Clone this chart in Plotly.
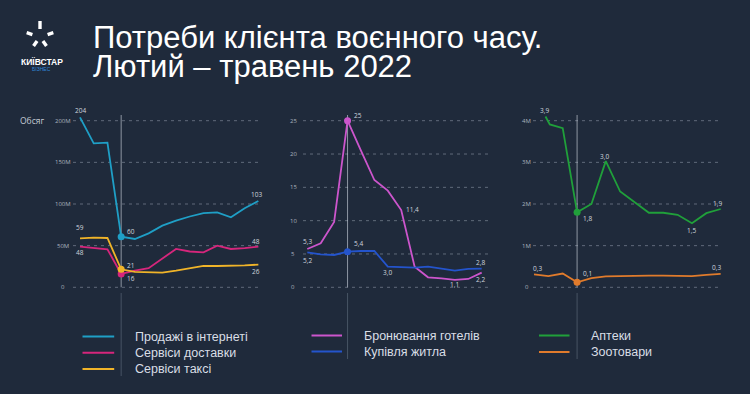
import math
import plotly.graph_objects as go

W, H = 750, 394

# ---------------- data ----------------
weeks = list(range(14))
online_sales = [204, 172.8, 173.6, 60.8, 58, 64.8, 74, 80, 85, 89, 90, 84, 95, 103.6]
delivery = [48.8, 47, 45.6, 16, 20, 23, 34, 46, 43, 42, 50, 46, 47, 48.8]
taxi = [58.8, 59.6, 59.2, 21.6, 18.4, 17.6, 17.6, 20, 22.8, 25.6, 25.6, 25.6, 26.4, 27.2]

hotels = [5.75, 6.6, 9.8, 25, 20.5, 16.1, 14.5, 11.6, 3.1, 1.5, 1.35, 1.1, 1.25, 2.2]
housing = [5.25, 4.95, 4.85, 5.35, 5.45, 5.45, 3.1, 3.0, 2.95, 3.1, 2.85, 2.5, 2.75, 2.8]

pharmacy_x = [0.8, 1.1, 2, 3, 4, 5, 6, 7, 8, 9, 10, 11, 12, 13]
pharmacy = [4.10, 3.91, 3.82, 1.80, 2.00, 3.03, 2.30, 2.04, 1.79, 1.79, 1.74, 1.54, 1.78, 1.88]
pets = [0.31, 0.27, 0.33, 0.12, 0.22, 0.26, 0.27, 0.28, 0.28, 0.28, 0.27, 0.27, 0.30, 0.32]

war_week = 3

left_ticks = [0, 50, 100, 150, 200]
left_ticktext = ["0", "50M", "100M", "150M", "200M"]
mid_ticks = [0, 5, 10, 15, 20, 25]
mid_ticktext = ["0", "5", "10", "15", "20", "25"]
right_ticks = [0, 1, 2, 3, 4]
right_ticktext = ["0", "1M", "2M", "3M", "4M"]

series_names = ["Продажі в інтернеті", "Сервіси доставки", "Сервіси таксі",
                "Бронювання готелів", "Купівля житла", "Аптеки", "Зоотовари"]

# point labels: (series key, index into series, text)
point_labels = [
    ("online", 0, "204"), ("taxi", 0, "59"), ("delivery", 0, "48"),
    ("online", 3, "60"), ("taxi", 3, "21"), ("delivery", 3, "16"),
    ("online", 13, "103"), ("delivery", 13, "48"), ("taxi", 13, "26"),
    ("hotels", 3, "25"), ("hotels", 0, "5,3"), ("housing", 0, "5,2"),
    ("housing", 3, "5,4"), ("hotels", 7, "11,4"), ("housing", 6, "3,0"),
    ("hotels", 11, "1,1"), ("housing", 13, "2,8"), ("hotels", 13, "2,2"),
    ("pharmacy", 0, "3,9"), ("pharmacy", 3, "1,8"), ("pharmacy", 5, "3,0"),
    ("pharmacy", 11, "1,5"), ("pharmacy", 13, "1,9"),
    ("pets", 0, "0,3"), ("pets", 3, "0,1"), ("pets", 13, "0,3"),
]

title_lines = ["Потреби клієнта воєнного часу.", "Лютий – травень 2022"]
y_title = "Обсяг"

# ---------------- styles ----------------
BG = "#1f2a3b"
C_ONLINE = "#1f9fc6"
C_DELIV = "#d6267c"
C_TAXI = "#f0b429"
C_HOTEL = "#cc55cc"
C_HOUSE = "#2454cc"
C_PHARM = "#20a03a"
C_PETS = "#e07b2c"
GRID = "rgba(175,185,200,0.45)"
TICKC = "#aab3bf"
LABC = "#cfd5de"

series = {
    "online": ("x", "y", weeks, online_sales, C_ONLINE),
    "delivery": ("x", "y", weeks, delivery, C_DELIV),
    "taxi": ("x", "y", weeks, taxi, C_TAXI),
    "hotels": ("x2", "y2", weeks, hotels, C_HOTEL),
    "housing": ("x2", "y2", weeks, housing, C_HOUSE),
    "pharmacy": ("x3", "y3", pharmacy_x, pharmacy, C_PHARM),
    "pets": ("x3", "y3", weeks, pets, C_PETS),
}

# label offsets (px): key -> (xshift, yshift, xanchor)
label_style = {
    ("online", 0): (0, 7, "center"), ("taxi", 0): (0, 11, "center"),
    ("delivery", 0): (0, -6, "center"),
    ("online", 3): (4, 5, "left"), ("taxi", 3): (4, 4, "left"),
    ("delivery", 3): (4, -5, "left"),
    ("online", 13): (-2, 6, "center"), ("delivery", 13): (-2, 5, "center"),
    ("taxi", 13): (-2, -7, "center"),
    ("hotels", 3): (4, 5, "left"), ("hotels", 0): (0, 7, "center"),
    ("housing", 0): (0, -8, "center"), ("housing", 3): (4, 8, "left"),
    ("hotels", 7): (3, 0, "left"), ("housing", 6): (0, -6, "center"),
    ("hotels", 11): (0, -5, "center"), ("housing", 13): (-1, 6, "center"),
    ("hotels", 13): (-1, -7, "center"),
    ("pharmacy", 0): (-1, 6, "center"), ("pharmacy", 3): (4, -6, "left"),
    ("pharmacy", 5): (-1, 5, "center"), ("pharmacy", 11): (0, -7, "center"),
    ("pharmacy", 13): (-3, 5, "center"),
    ("pets", 0): (3, 6, "center"), ("pets", 3): (4, 9, "left"),
    ("pets", 13): (-4, 6, "center"),
}


def X(px):
    return px / W


def Y(py):
    return 1 - py / H


ZERO_PX = 287.3
TOP_TICK_PX = 120.7
DOM_TOP, DOM_BOT = 108, 290


def yax(top_tick_val):
    s = (ZERO_PX - TOP_TICK_PX) / top_tick_val
    return dict(domain=[Y(DOM_BOT), Y(DOM_TOP)],
                range=[(ZERO_PX - DOM_BOT) / s, (ZERO_PX - DOM_TOP) / s],
                showgrid=False, zeroline=False, showticklabels=False,
                showline=False, ticks="", fixedrange=True)


def xax(idx0_px, sp, l, r):
    return dict(domain=[X(l), X(r)],
                range=[(l - idx0_px) / sp, (r - idx0_px) / sp],
                showgrid=False, zeroline=False, showticklabels=False,
                showline=False, ticks="", fixedrange=True)


fig = go.Figure()

names_by_key = dict(zip(["online", "delivery", "taxi", "hotels", "housing", "pharmacy", "pets"],
                        series_names))

for key, (xa, ya, xs, ys, col) in series.items():
    fig.add_trace(go.Scatter(x=xs, y=ys, xaxis=xa, yaxis=ya, mode="lines",
                             line=dict(color=col, width=1.8, shape="linear"),
                             name=names_by_key[key], showlegend=False,
                             cliponaxis=False, hoverinfo="skip"))
    wi = xs.index(war_week)
    fig.add_trace(go.Scatter(x=[xs[wi]], y=[ys[wi]], xaxis=xa, yaxis=ya,
                             mode="markers", marker=dict(color=col, size=7),
                             showlegend=False, cliponaxis=False, hoverinfo="skip"))

layout = dict(
    width=W, height=H, margin=dict(l=0, r=0, t=0, b=0),
    paper_bgcolor=BG, plot_bgcolor=BG, showlegend=False,
    xaxis=xax(80.0, 13.72, 73, 260),
    xaxis2=xax(307.3, 13.415, 303, 488.3),
    xaxis3=xax(534.0, 14.36, 533, 722),
    yaxis=yax(left_ticks[-1]),
    yaxis2=yax(mid_ticks[-1]),
    yaxis3=yax(right_ticks[-1]),
)
fig.update_layout(**layout)

shapes = []
annotations = []

# dashed grid lines at tick values
for xa, ya, ticks, (l, r) in [("x", "y", left_ticks, (73, 260)),
                              ("x2", "y2", mid_ticks, (303, 488.3)),
                              ("x3", "y3", right_ticks, (533, 722))]:
    for t in ticks:
        shapes.append(dict(type="line", xref="paper", yref=ya, x0=X(l), x1=X(r),
                           y0=t, y1=t, line=dict(color=GRID, width=1, dash="3px,4px"),
                           layer="below"))

# tick labels (centered like in the reference)
for ya, ticks, texts, cx in [("y", left_ticks, left_ticktext, 63.3),
                             ("y2", mid_ticks, mid_ticktext, 293.3),
                             ("y3", right_ticks, right_ticktext, 526.7)]:
    for t, tt in zip(ticks, texts):
        annotations.append(dict(xref="paper", yref=ya, x=X(cx), y=t, text=tt,
                                showarrow=False, xanchor="center", yanchor="middle",
                                font=dict(family="Open Sans", size=6, color=TICKC)))

# vertical war-start lines
for xa, low_end in [("x", 376), ("x2", 359), ("x3", 359)]:
    shapes.append(dict(type="line", xref=xa, yref="paper", x0=war_week, x1=war_week,
                       y0=Y(ZERO_PX), y1=Y(115),
                       line=dict(color="rgba(215,222,232,0.6)", width=1), layer="below"))
    shapes.append(dict(type="line", xref=xa, yref="paper", x0=war_week, x1=war_week,
                       y0=Y(low_end), y1=Y(293),
                       line=dict(color="rgba(120,132,150,0.45)", width=1), layer="below"))

# point labels
for key, i, txt in point_labels:
    xa, ya, xs, ys, col = series[key]
    dx, dy, anc = label_style[(key, i)]
    annotations.append(dict(xref=xa, yref=ya, x=xs[i], y=ys[i], text=txt,
                            showarrow=False, xanchor=anc, yanchor="middle",
                            xshift=dx, yshift=dy,
                            font=dict(family="Open Sans", size=6.5, color=LABC)))

# y title
annotations.append(dict(xref="paper", yref="paper", x=X(31.7), y=Y(121), text=y_title,
                        showarrow=False, xanchor="center", yanchor="middle",
                        font=dict(family="Open Sans", size=8.5, color="#c3cad4")))

# title (two lines, tight leading as in the reference)
for txt, yy in zip(title_lines, (37, 66.5)):
    annotations.append(dict(xref="paper", yref="paper", x=X(91), y=Y(yy), text=txt,
                            showarrow=False, xanchor="left", yanchor="middle",
                            font=dict(family="Liberation Sans", size=31, color="white")))

# legend
legend_cols = [
    (82.5, 114.2, 133, [(series_names[0], C_ONLINE, 336.5), (series_names[1], C_DELIV, 352.7),
                        (series_names[2], C_TAXI, 369)]),
    (311.5, 342, 362, [(series_names[3], C_HOTEL, 335.5), (series_names[4], C_HOUSE, 351.5)]),
    (539, 569.5, 589, [(series_names[5], C_PHARM, 335.5), (series_names[6], C_PETS, 352)]),
]
for x0, x1, tx, items in legend_cols:
    for name, col, yy in items:
        shapes.append(dict(type="line", xref="paper", yref="paper", x0=X(x0), x1=X(x1),
                           y0=Y(yy), y1=Y(yy), line=dict(color=col, width=2)))
        annotations.append(dict(xref="paper", yref="paper", x=X(tx), y=Y(yy), text=name,
                                showarrow=False, xanchor="left", yanchor="middle",
                                font=dict(family="Liberation Sans", size=12.5, color="#d9dee6")))

# logo (Kyivstar star)
cx, cy = 40.0, 37.0
for ang, r0, r1 in [(270, 8, 16), (342, 8, 14), (198, 8, 14), (54, 5, 11), (126, 5, 11)]:
    a = math.radians(ang)
    shapes.append(dict(type="line", xref="paper", yref="paper",
                       x0=X(cx + r0 * math.cos(a)), y0=Y(cy + r0 * math.sin(a)),
                       x1=X(cx + r1 * math.cos(a)), y1=Y(cy + r1 * math.sin(a)),
                       line=dict(color="white", width=3.4)))
annotations.append(dict(xref="paper", yref="paper", x=X(41.5), y=Y(62), text="<b>КИЇВСТАР</b>",
                        showarrow=False, xanchor="center", yanchor="middle",
                        font=dict(family="Liberation Sans", size=8.5, color="white")))
annotations.append(dict(xref="paper", yref="paper", x=X(41), y=Y(69.5), text="БІЗНЕС",
                        showarrow=False, xanchor="center", yanchor="middle",
                        font=dict(family="Liberation Sans", size=5, color="#2f86d6")))

fig.update_layout(shapes=shapes, annotations=annotations, hovermode=False)
fig.write_html("out.html", config={"displayModeBar": False, "staticPlot": True},
               post_script="document.body.style.margin='0';document.body.style.padding='0';")
